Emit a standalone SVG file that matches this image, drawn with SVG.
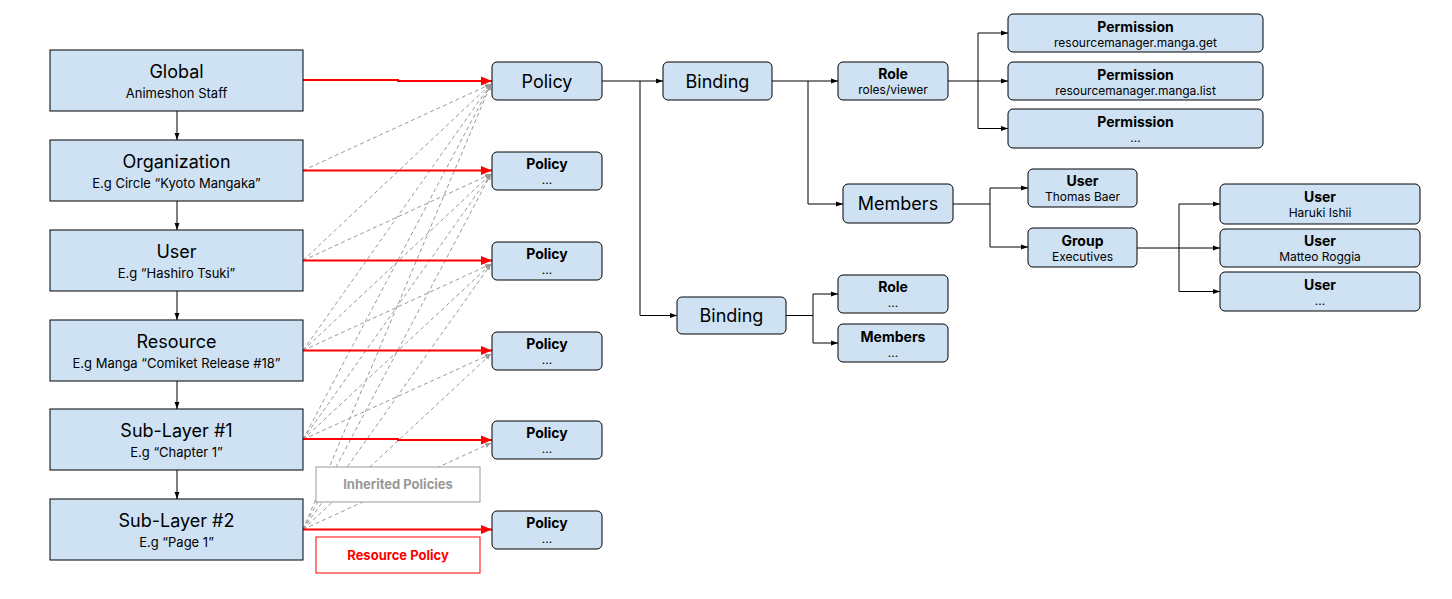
<svg xmlns="http://www.w3.org/2000/svg" width="1452" height="599" viewBox="0 0 1452 599">
<style>
text{font-family:Inter,"Noto Sans","Liberation Sans",sans-serif;fill:#000;text-anchor:middle}
.n{fill:#cfe2f3;stroke:#000;stroke-width:1}
.t18{font-size:18px}
.t13{font-size:13px}
.b14{font-size:14px;font-weight:bold}
.s12{font-size:12px}
.c{fill:none;stroke:#000;stroke-width:1;marker-end:url(#ab)}
.v{fill:none;stroke:#000;stroke-width:1;marker-end:url(#ab)}
.r{fill:none;stroke:#f00;stroke-width:2;marker-end:url(#ar)}
.d{fill:none;stroke:#999;stroke-width:1;stroke-dasharray:4 3;marker-end:url(#ag)}
</style>
<defs>
<marker id="ab" viewBox="0 0 10 10" refX="10" refY="5" markerWidth="7" markerHeight="7" markerUnits="userSpaceOnUse" orient="auto"><path d="M0,1.5 L10,5 L0,8.5 z" fill="#000"/></marker>
<marker id="ar" viewBox="0 0 10 10" refX="10" refY="5" markerWidth="11" markerHeight="11" markerUnits="userSpaceOnUse" orient="auto"><path d="M0,1 L10,5 L0,9 z" fill="#f00"/></marker>
<marker id="ag" viewBox="0 0 10 10" refX="10" refY="5" markerWidth="6" markerHeight="6" markerUnits="userSpaceOnUse" orient="auto"><path d="M0,1 L10,5 L0,9 z" fill="#999"/></marker>
</defs>
<rect width="1452" height="599" fill="#fff"/>

<g id="connectors">
<path class="v" d="M177,111 V140"/>
<path class="v" d="M177,201 V230"/>
<path class="v" d="M177,291 V320"/>
<path class="v" d="M177,381 V409"/>
<path class="v" d="M177,470 V499"/>
<path class="d" d="M303,170.5 L491,84"/>
<path class="d" d="M303,260.5 L491,84"/>
<path class="d" d="M303,260.5 L491,174"/>
<path class="d" d="M303,350.5 L491,84"/>
<path class="d" d="M303,350.5 L491,174"/>
<path class="d" d="M303,350.5 L491,264"/>
<path class="d" d="M303,439.5 L491,84"/>
<path class="d" d="M303,439.5 L491,174"/>
<path class="d" d="M303,439.5 L491,264"/>
<path class="d" d="M303,439.5 L491,354"/>
<path class="d" d="M303,529.5 L491,84"/>
<path class="d" d="M303,529.5 L491,174"/>
<path class="d" d="M303,529.5 L491,264"/>
<path class="d" d="M303,529.5 L491,354"/>
<path class="d" d="M303,529.5 L491,443"/>
<path class="r" d="M303,80 H398 V81 H492"/>
<path class="r" d="M303,170.5 H492"/>
<path class="r" d="M303,260.5 H492"/>
<path class="r" d="M303,350.5 H492"/>
<path class="r" d="M303,439 H398 V440 H492"/>
<path class="r" d="M303,529.5 H492"/>
<path class="c" d="M602,81 H663"/>
<path class="c" d="M640,81 V315.5 H677"/>
<path class="c" d="M772,81 H838"/>
<path class="c" d="M808,81 V204 H843"/>
<path class="c" d="M948,81 H1008"/>
<path class="c" d="M978,81 V33 H1008"/>
<path class="c" d="M978,81 V128.5 H1008"/>
<path class="c" d="M953,204 H990 V188 H1028"/>
<path class="c" d="M990,204 V247 H1028"/>
<path class="c" d="M1137,248 H1220"/>
<path class="c" d="M1179,248 V204 H1220"/>
<path class="c" d="M1179,248 V291.5 H1220"/>
<path class="c" d="M786,315.5 H813 V294 H838"/>
<path class="c" d="M813,315.5 V343 H838"/>
</g>

<g id="global"><rect class="n" x="50" y="50" width="253" height="61"/><text class="t18" x="176.5" y="78">Global</text><text class="t13" x="176.5" y="98">Animeshon Staff</text></g>
<g id="organization"><rect class="n" x="50" y="140" width="253" height="61"/><text class="t18" x="176.5" y="168">Organization</text><text class="t13" x="176.5" y="188">E.g Circle “Kyoto Mangaka”</text></g>
<g id="user"><rect class="n" x="50" y="230" width="253" height="61"/><text class="t18" x="176.5" y="258">User</text><text class="t13" x="176.5" y="278">E.g “Hashiro Tsuki”</text></g>
<g id="resource"><rect class="n" x="50" y="320" width="253" height="61"/><text class="t18" x="176.5" y="348">Resource</text><text class="t13" x="176.5" y="368">E.g Manga “Comiket Release #18”</text></g>
<g id="sublayer1"><rect class="n" x="50" y="409" width="253" height="61"/><text class="t18" x="176.5" y="437">Sub-Layer #1</text><text class="t13" x="176.5" y="457">E.g “Chapter 1”</text></g>
<g id="sublayer2"><rect class="n" x="50" y="499" width="253" height="61"/><text class="t18" x="176.5" y="527">Sub-Layer #2</text><text class="t13" x="176.5" y="547">E.g “Page 1”</text></g>

<g id="policy1"><rect class="n" x="492" y="62" width="110" height="38" rx="5"/><text class="t18" x="547" y="87.5">Policy</text></g>
<g id="policy2"><rect class="n" x="492" y="152" width="110" height="38" rx="5"/><text class="b14" x="547" y="169">Policy</text><text class="s12" x="547" y="184">...</text></g>
<g id="policy3"><rect class="n" x="492" y="242" width="110" height="38" rx="5"/><text class="b14" x="547" y="259">Policy</text><text class="s12" x="547" y="274">...</text></g>
<g id="policy4"><rect class="n" x="492" y="332" width="110" height="38" rx="5"/><text class="b14" x="547" y="349">Policy</text><text class="s12" x="547" y="364">...</text></g>
<g id="policy5"><rect class="n" x="492" y="421" width="110" height="38" rx="5"/><text class="b14" x="547" y="438">Policy</text><text class="s12" x="547" y="453">...</text></g>
<g id="policy6"><rect class="n" x="492" y="511" width="110" height="38" rx="5"/><text class="b14" x="547" y="528">Policy</text><text class="s12" x="547" y="543">...</text></g>

<g id="legend-inherited"><rect x="316" y="467" width="164" height="35" fill="#fff" stroke="#999" stroke-width="1"/><text x="398" y="489" style="font-size:13px;font-weight:bold;fill:#999">Inherited Policies</text></g>
<g id="legend-resource"><rect x="316" y="537" width="164" height="36" fill="#fff" stroke="#f00" stroke-width="1"/><text x="398" y="560" style="font-size:13px;font-weight:bold;fill:#f00">Resource Policy</text></g>

<g id="binding1"><rect class="n" x="663" y="62" width="109" height="38" rx="5"/><text class="t18" x="717.5" y="87.5">Binding</text></g>
<g id="binding2"><rect class="n" x="677" y="297" width="109" height="37" rx="5"/><text class="t18" x="731.5" y="322">Binding</text></g>
<g id="role1"><rect class="n" x="838" y="62" width="110" height="38" rx="5"/><text class="b14" x="893" y="79">Role</text><text class="s12" x="893" y="94">roles/viewer</text></g>
<g id="members1"><rect class="n" x="843" y="184" width="110" height="39" rx="5"/><text class="t18" x="898" y="210">Members</text></g>
<g id="perm1"><rect class="n" x="1008" y="14" width="255" height="38" rx="5"/><text class="b14" x="1135.5" y="31.5">Permission</text><text class="s12" x="1135.5" y="46.5">resourcemanager.manga.get</text></g>
<g id="perm2"><rect class="n" x="1008" y="62" width="255" height="38" rx="5"/><text class="b14" x="1135.5" y="79.5">Permission</text><text class="s12" x="1135.5" y="94.5">resourcemanager.manga.list</text></g>
<g id="perm3"><rect class="n" x="1008" y="109" width="255" height="39" rx="5"/><text class="b14" x="1135.5" y="126.5">Permission</text><text class="s12" x="1135.5" y="142">...</text></g>
<g id="user-thomas"><rect class="n" x="1028" y="169" width="109" height="38" rx="5"/><text class="b14" x="1082.5" y="186">User</text><text class="s12" x="1082.5" y="201">Thomas Baer</text></g>
<g id="group-exec"><rect class="n" x="1028" y="228" width="109" height="39" rx="5"/><text class="b14" x="1082.5" y="245.5">Group</text><text class="s12" x="1082.5" y="261">Executives</text></g>
<g id="user-haruki"><rect class="n" x="1220" y="184" width="200" height="40" rx="5"/><text class="b14" x="1320" y="202">User</text><text class="s12" x="1320" y="217">Haruki Ishii</text></g>
<g id="user-matteo"><rect class="n" x="1220" y="229" width="200" height="38" rx="5"/><text class="b14" x="1320" y="246">User</text><text class="s12" x="1320" y="261">Matteo Roggia</text></g>
<g id="user-more"><rect class="n" x="1220" y="272" width="200" height="39" rx="5"/><text class="b14" x="1320" y="290">User</text><text class="s12" x="1320" y="305">...</text></g>
<g id="role2"><rect class="n" x="838" y="275" width="110" height="38" rx="5"/><text class="b14" x="893" y="292">Role</text><text class="s12" x="893" y="307">...</text></g>
<g id="members2"><rect class="n" x="838" y="324" width="110" height="38" rx="5"/><text class="b14" x="893" y="342">Members</text><text class="s12" x="893" y="357">...</text></g>
</svg>
